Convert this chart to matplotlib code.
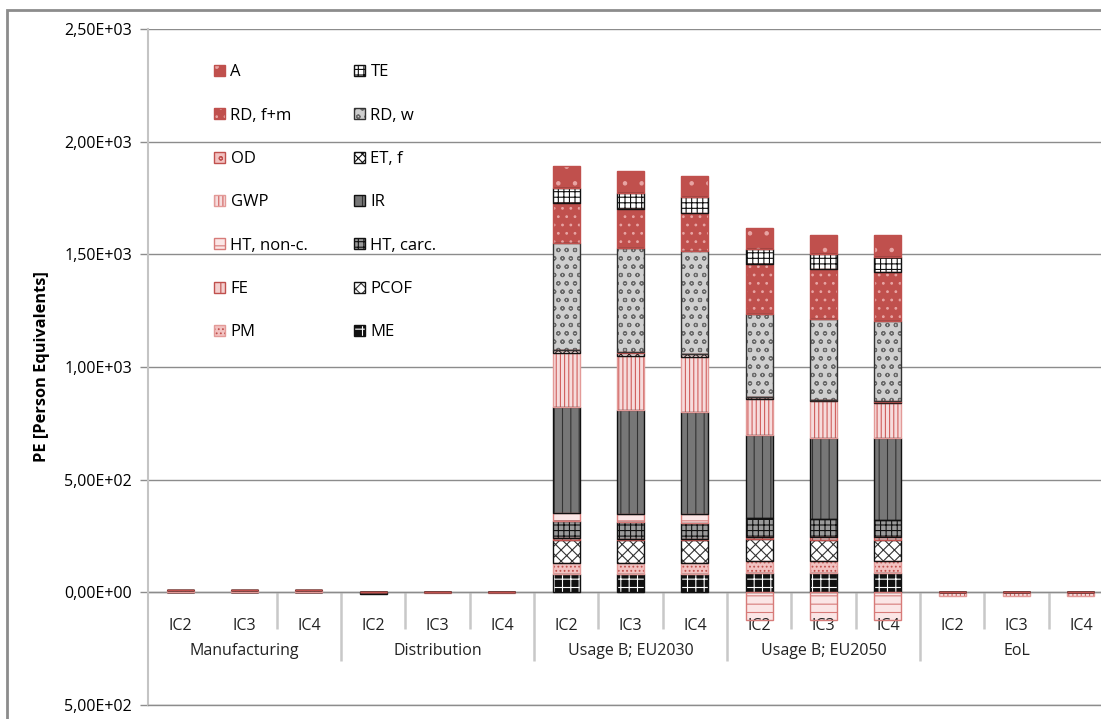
import matplotlib

matplotlib.use("Agg")
import matplotlib.pyplot as plt
import numpy as np
from matplotlib.patches import Patch, Rectangle

plt.rcParams["font.family"] = ["Open Sans", "DejaVu Sans"]
plt.rcParams["hatch.linewidth"] = 0.8

W, H = 1101, 719

GROUPS = ["Manufacturing", "Distribution", "Usage B; EU2030", "Usage B; EU2050", "EoL"]
VARIANTS = ["IC2", "IC3", "IC4"]

# series listed bottom -> top of the stack, 15 bars each (5 groups x IC2..IC4)
SERIES = ["ME", "PM", "PCOF", "FE", "HT, carc.", "HT, non-c.", "IR", "GWP",
          "ET, f", "OD", "RD, w", "RD, f+m", "TE", "A"]

ME = [0, 0, 0, 0, 0, 0, 80, 80, 80, 88, 86, 86, 0, 0, 0]
PM = [0, 0, 0, 0, 0, 0, 50, 50, 50, 52, 54, 54, 0, 0, 0]
PCOF = [0, 0, 0, 0, 0, 0, 104, 102, 102, 95, 93, 93, 0, 0, 0]
FE = [0, 0, 0, 0, 0, 0, 6, 6, 6, 10, 11, 11, 0, 0, 0]
HT_CARC = [0, 0, 0, 0, 0, 0, 78, 76, 68, 86, 80, 78, 0, 0, 0]
HT_NONC = [0, 0, 0, 0, 0, 0, 35, 34, 40, -121, -124, -122, 0, 0, 0]
IR = [0, 0, 0, -7, 0, 0, 469, 462, 454, 366, 361, 361, 0, 0, 0]
GWP = [10, 10, 10, 0, -5, -5, 240, 238, 243, 162, 162, 157, -15, -15, -15]
ET_F = [0, 0, 0, 0, 0, 0, 12, 15, 13, 6, 6, 6, 0, 0, 0]
OD = [0, 0, 0, 0, 0, 0, 2, 2, 2, 2, 2, 2, 0, 0, 0]
RD_W = [0, 0, 0, 0, 0, 0, 475, 461, 459, 368, 360, 357, 0, 0, 0]
RD_FM = [0, 0, 0, 0, 0, 0, 177, 173, 167, 221, 218, 217, 0, 0, 0]
TE = [0, 0, 0, 0, 0, 0, 66, 73, 69, 66, 67, 66, 0, 0, 0]
A = [0, 0, 0, 0, 0, 0, 99, 96, 96, 96, 88, 96, 0, 0, 0]

VALUES = [ME, PM, PCOF, FE, HT_CARC, HT_NONC, IR, GWP, ET_F, OD, RD_W, RD_FM, TE, A]

Y_TICKS = [-500, 0, 500, 1000, 1500, 2000, 2500]
Y_TICK_LABELS = ["5,00E+02", "0,00E+00", "5,00E+02", "1,00E+03", "1,50E+03", "2,00E+03", "2,50E+03"]

RED = "#c0504d"
# face, hatch, hatch colour, outline colour
STYLES = {
    "ME": ("#111111", "++", "white", "#111111"),
    "PM": ("#f2c2c1", "....", RED, "#e39a98"),
    "PCOF": ("white", "xxx", "#333333", "#111111"),
    "FE": ("#f4d0cf", "||", RED, RED),
    "HT, carc.": ("#9a9a9a", "+++", "#111111", "#111111"),
    "HT, non-c.": ("#fbe6e6", "--", "#d77b79", "#d77b79"),
    "IR": ("#777777", "||", "#333333", "#111111"),
    "GWP": ("#f6dcdc", "||||", "#d05f5d", "#e39a98"),
    "ET, f": ("white", "xxxx", "#111111", "#111111"),
    "OD": ("#f2c2c1", "oo", RED, RED),
    "RD, w": ("#cfcfcf", "oo", "#6a6a6a", "#333333"),
    "RD, f+m": (RED, "..", "#e8a5a4", RED),
    "TE": ("white", "+++", "#111111", "#111111"),
    "A": (RED, ".", "#e8a5a4", RED),
}

fig = plt.figure(figsize=(W / 100, H / 100), dpi=100)
ax = fig.add_axes([148 / W, 14 / H, 965 / W, 676 / H])

# outer chart frame
fig.patches.append(Rectangle((7 / W, -0.1), 1.2, 1.1 - 10 / H, transform=fig.transFigure,
                             fill=False, edgecolor="#8c8c8c", linewidth=2))

x = np.arange(len(GROUPS) * len(VARIANTS))
width = 0.42
pos_base = np.zeros(len(x))
neg_base = np.zeros(len(x))
handles = {}
for name, vals in zip(SERIES, VALUES):
    vals = np.asarray(vals, dtype=float)
    face, hatch, hcol, edge = STYLES[name]
    bottoms = np.where(vals >= 0, pos_base, neg_base)
    ax.bar(x, vals, width, bottom=bottoms, facecolor=face, edgecolor=hcol, hatch=hatch,
           linewidth=0, zorder=3)
    ax.bar(x, vals, width, bottom=bottoms, fill=False, edgecolor=edge, linewidth=1.0, zorder=4)
    pos_base += np.where(vals > 0, vals, 0)
    neg_base += np.where(vals < 0, vals, 0)
    handles[name] = (Patch(facecolor=face, edgecolor=hcol, hatch=hatch, linewidth=0),
                     Patch(fill=False, edgecolor=edge, linewidth=1.0))

ax.set_xlim(-0.5, len(x) - 0.5)
ax.set_ylim(-500, 2500)
ax.set_yticks(Y_TICKS)
ax.set_yticklabels(Y_TICK_LABELS, fontsize=11.5)
ax.tick_params(axis="y", length=6, width=1, color="#8c8c8c", pad=5.5)
ax.set_xticks([])
ax.grid(axis="y", color="#8c8c8c", linewidth=1, zorder=0)
ax.set_axisbelow(True)
for side in ("top", "right"):
    ax.spines[side].set_visible(False)
ax.spines["left"].set_color("#c4c4c4")
ax.spines["left"].set_linewidth(1.5)
ax.spines["bottom"].set_color("#8c8c8c")
ax.spines["bottom"].set_linewidth(1)
ax.axhline(0, color="#8c8c8c", linewidth=1, zorder=2)
ax.set_ylabel("PE [Person Equivalents]", fontsize=11.8, fontweight="bold")
ax.yaxis.set_label_coords(-0.1016, 0.5)

# category axis drawn under the zero line
for i in x:
    ax.text(i, -150, VARIANTS[i % 3], ha="center", va="center", fontsize=11.5, color="#222222")
for i in range(1, len(x)):
    if i == 1:
        continue
    long_sep = i % 3 == 0
    ax.plot([i - 0.5, i - 0.5], [0, -305 if long_sep else -164], color="#c8c8c8",
            linewidth=1.8, zorder=1, solid_capstyle="butt")
for g, label in enumerate(GROUPS):
    ax.text(3 * g + 1, -262, label, ha="center", va="center", fontsize=11.5, color="#222222")

order = SERIES[::-1]
legend_kw = dict(loc="upper left", frameon=False, fontsize=12, handlelength=0.62,
                 handleheight=0.62, handletextpad=0.35, labelspacing=1.64, borderpad=0,
                 bbox_transform=fig.transFigure)
col1 = order[0::2]
col2 = order[1::2]
leg1 = ax.legend([handles[n] for n in col1], col1, bbox_to_anchor=(206 / W, 1 - 56 / H), **legend_kw)
ax.add_artist(leg1)
ax.legend([handles[n] for n in col2], col2, bbox_to_anchor=(346 / W, 1 - 56 / H), **legend_kw)

fig.savefig("out.png", dpi=100)
